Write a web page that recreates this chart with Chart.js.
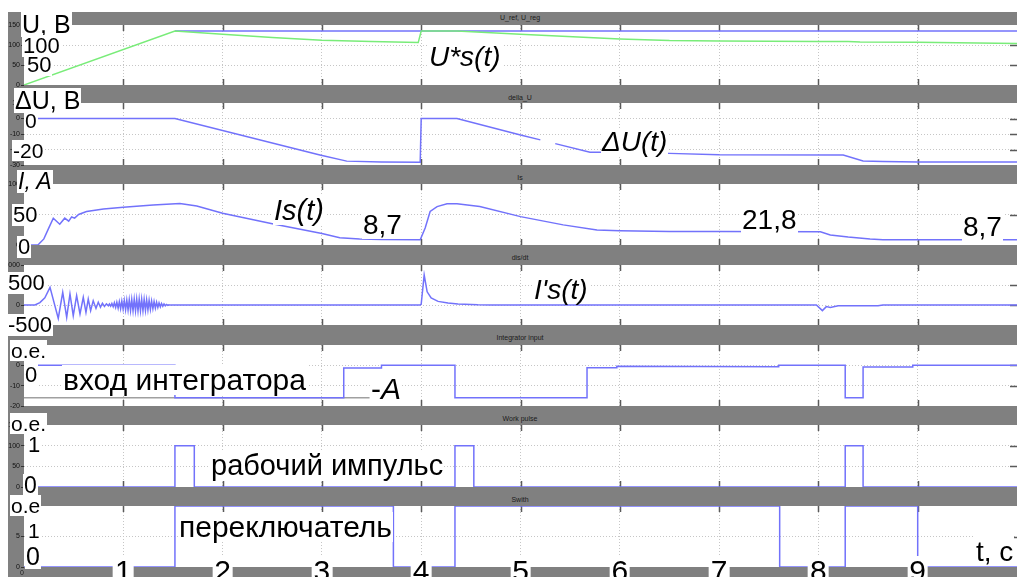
<!DOCTYPE html>
<html>
<head>
<meta charset="utf-8">
<script src="https://cdn.jsdelivr.net/npm/chart.js@4.4.1/dist/chart.umd.min.js"></script>
<style>
html, body { margin: 0; padding: 0; background: #fff; overflow: hidden; }
#scope { position: relative; width: 1017px; height: 577px; overflow: hidden; font-family: 'Liberation Sans', Arial, sans-serif; }
.bar { position: absolute; background: #808080; }
.cap { position: absolute; font-size: 7px; color: #1a1a1a; transform: translate(-50%, -50%); white-space: nowrap; }
canvas { position: absolute; left: 8px; }
.lbl { position: absolute; background: #fff; line-height: 1; white-space: nowrap; color: #000; padding: 0 1px; }
.it { font-style: italic; }
</style>
</head>
<body>
<div id="scope"></div>
<script>
// time axis (s)
const timeTicks = [1, 2, 3, 4, 5, 6, 7, 8, 9];

// U_ref / U_reg, V (U_ref is hidden under U_reg on the ramp)
const uRefT = [1.52, 10];
const uRefV = [135, 135];
const uRegT = [0, 1.52, 2.0, 2.5, 3.0, 3.5, 3.97, 4.0, 4.36, 5.0, 6.0, 6.5, 7.0, 8.0, 8.3, 8.42, 9.0, 10];
const uRegV = [0, 135, 127, 119, 112, 108.5, 106, 135, 135, 127, 115, 111, 110, 109, 108.5, 107.5, 107, 104];

// delta_U, V
const dUT = [0, 1.52, 2.98, 3.25, 3.6, 3.99, 4.0, 4.36, 5.0, 5.2, 5.27, 5.35, 5.7, 6.0, 6.5, 7.0, 8.25, 8.45, 8.65, 9.0, 10];
const dUV = [0, 0, -23.5, -27.5, -28, -28.3, 0, 0, -10.6, -13.8, null, -16.2, -21.8, -21.8, -22.5, -23.4, -23.5, -27.4, -27.7, -28, -28];

// Is, A
const isT = [0, .14, .2, .25, .295, .36, .41, .45, .48, .51, .55, .63, .8, 1.0, 1.3, 1.57, 1.74, 2.0, 2.5, 3.0, 3.18, 3.38, 3.6, 3.99,
             4.04, 4.09, 4.16, 4.26, 4.36, 4.59, 5.0, 5.43, 5.77, 6.0, 6.5, 7.0, 8.02, 8.12, 8.3, 8.52, 8.65, 10];
const isV = [0, 0, 10, 28, 44, 34, 44, 39, 46, 44, 50, 55, 59, 62, 65.5, 68, 64, 52, 35, 19, 12, 10, 9, 8.7,
             28, 55, 63, 67.5, 67.5, 63, 46.5, 33, 24.5, 23.5, 22, 22, 21.8, 16.5, 13, 10, 8.7, 8.7];

// dIs/dt
const didtT = [0, .11, .16, .21, .262, .345, .39, .43, .463, .496, .53, .564, .597, .624, .647, .671, .697, .725, .748, .77, .79, .81, .83, .85,
               .86, .873, .885, .898, .91, .923, .935, .948, .96, .973, .985, .998, 1.01, 1.023, 1.035, 1.048, 1.06, 1.073, 1.085, 1.098,
               1.11, 1.123, 1.135, 1.148, 1.16, 1.173, 1.185, 1.198, 1.21, 1.223, 1.235, 1.248, 1.26, 1.273, 1.285, 1.298, 1.31, 1.323,
               1.335, 1.348, 1.36, 1.373, 1.385, 1.398, 1.41, 1.423, 1.435, 1.448, 1.46, 1.473, 1.5,
               3.99, 4.0, 4.03, 4.06, 4.1, 4.17, 4.27, 4.37, 4.57, 4.7, 7.98, 8.04, 8.08, 8.12, 8.2, 8.6, 8.65, 10];
const didtV = [0, 0, 60, 180, 440, -335, 315, -310, 275, -268, 233, -225, 190, -185, 150, -143, 108, -85, 70, -55, 45, -35, 28, -20,
               25, -30, 38, -45, 55, -62, 70, -78, 85, -92, 100, -105, 112, -118, 124, -128, 133, -137, 140, -143,
               146, -148, 150, -150, 150, -148, 146, -143, 140, -135, 130, -124, 118, -110, 102, -94, 86, -78,
               70, -62, 54, -46, 38, -31, 25, -19, 14, -10, 6, -3, 0,
               0, 20, 750, 330, 175, 90, 50, 25, 5, 0, 0, -140, -40, -60, -20, -20, 0, 0];

// Integrator input
const intT = [0, 1.52, 1.52, 3.22, 3.22, 3.6, 3.6, 4.34, 4.34, 5.67, 5.67, 5.97, 5.97, 7.6, 7.6, 8.27, 8.27, 8.45, 8.45, 8.95, 8.95, 10];
const intV = [0, 0, -16, -16, -1.3, -1.3, 0, 0, -16, -16, -1.2, -1.2, -0.5, -0.7, 0, 0, -16, -16, -0.8, -0.8, 0, 0];
const levelAT = [0, 3.48];
const levelAV = [-16, -16];

// Work pulse
const wpT = [0, 1.52, 1.52, 1.715, 1.715, 4.34, 4.34, 4.53, 4.53, 8.27, 8.27, 8.45, 8.45, 10];
const wpV = [0, 0, 100, 100, 0, 0, 100, 100, 0, 0, 100, 100, 0, 0];

// Swith
const swT = [0, 1.52, 1.52, 3.72, 3.72, 4.34, 4.34, 7.61, 7.61, 8.27, 8.27, 9.0, 9.0, 10];
const swV = [0, 0, 10, 10, 0, 0, 10, 10, 0, 0, 10, 10, 0, 0];

const BLUE = '#7272fb';
const GREEN = '#79ec79';
const FONT = "'Liberation Sans', Arial, sans-serif";

const scope = document.getElementById('scope');

function pts(t, v) {
    return t.map((x, i) => ({ x: x, y: v[i] }));
}

function div(cls, css, html) {
    const d = document.createElement('div');
    d.className = cls;
    Object.assign(d.style, css);
    d.innerHTML = html || '';
    scope.appendChild(d);
    return d;
}

// series listed top-most first (Chart.js paints dataset 0 last)
const panels = [
    { top: 25, h: 60, min: 0, max: 150, ticks: [0, 50, 100, 150], grid: [50, 100], bar: [12, 25], title: 'U_ref, U_reg', titleY: 17,
      series: [[uRegT, uRegV, GREEN], [uRefT, uRefV, BLUE]] },
    { top: 103, h: 62, min: -30, max: 10, ticks: [-30, -20, -10, 0, 10], grid: [-20, -10, 0], bar: [85, 103], title: 'della_U', titleY: 97,
      series: [[dUT, dUV, BLUE]] },
    { top: 184, h: 61, min: 0, max: 100, ticks: [0, 50, 100], grid: [50], bar: [165, 184], title: 'Is', titleY: 177,
      series: [[isT, isV, BLUE]] },
    { top: 265, h: 60, min: -500, max: 1000, ticks: [-500, 0, 500, 1000], grid: [0, 500], bar: [245, 265], title: 'dis/dt', titleY: 257,
      series: [[didtT, didtV, BLUE]] },
    { top: 345, h: 61, min: -20, max: 10, ticks: [-20, -10, 0, 10], grid: [-10, 0], bar: [325, 345], title: 'Integrator input', titleY: 337,
      series: [[intT, intV, BLUE], [levelAT, levelAV, '#a0a0a0']] },
    { top: 425, h: 62, min: 0, max: 150, ticks: [0, 50, 100, 150], grid: [50, 100], bar: [406, 425], title: 'Work pulse', titleY: 418,
      series: [[wpT, wpV, BLUE]] },
    { top: 506, h: 61, min: 0, max: 10, ticks: [0, 5, 10], grid: [5], bar: [487, 506], title: 'Swith', titleY: 499,
      series: [[swT, swV, BLUE]] }
];

// scope frame: left strip, title bars, bottom bar
div('bar', { left: '8px', top: '12px', width: '16px', height: '565px' });
panels.forEach(p => {
    div('bar', { left: '8px', top: p.bar[0] + 'px', width: '1009px', height: (p.bar[1] - p.bar[0]) + 'px' });
    div('cap', { left: '520px', top: p.titleY + 'px' }, p.title);
});
div('bar', { left: '8px', top: '567px', width: '1009px', height: '10px' });

// solid tick marks at the panel edges
function scopeMarks(gridVals) {
    return {
        id: 'scopeMarks',
        beforeDatasetsDraw(chart) {
            const a = chart.chartArea, c = chart.ctx;
            c.save();
            c.strokeStyle = '#5a5a5a';
            c.lineWidth = 1.5;
            c.beginPath();
            timeTicks.forEach(t => {
                const x = Math.round(chart.scales.x.getPixelForValue(t)) + 0.5;
                c.moveTo(x, a.top); c.lineTo(x, a.top + 6);
                c.moveTo(x, a.bottom - 6); c.lineTo(x, a.bottom);
            });
            gridVals.forEach(v => {
                const y = Math.round(chart.scales.y.getPixelForValue(v)) + 0.5;
                c.moveTo(a.right - 7, y); c.lineTo(a.right, y);
            });
            c.stroke();
            c.restore();
        }
    };
}

const charts = panels.map(p => {
    const cv = document.createElement('canvas');
    cv.width = 1009;
    cv.height = p.h + 16;
    cv.style.top = (p.top - 8) + 'px';
    scope.appendChild(cv);
    return new Chart(cv, {
        type: 'line',
        data: {
            datasets: p.series.map(s => ({
                data: pts(s[0], s[1]),
                borderColor: s[2],
                borderWidth: 1.5,
                pointRadius: 0,
                tension: 0,
                spanGaps: false
            }))
        },
        options: {
            responsive: false,
            animation: false,
            events: [],
            layout: { padding: { top: 8, bottom: 8, left: 0, right: 0 } },
            plugins: { legend: { display: false }, tooltip: { enabled: false } },
            scales: {
                x: {
                    type: 'linear', min: 0, max: 10,
                    ticks: { display: false, stepSize: 1 },
                    grid: {
                        color: c => (c.tick && c.tick.value > 0 && c.tick.value < 10) ? '#c6c6c6' : 'rgba(0,0,0,0)',
                        drawTicks: false, lineWidth: 1
                    },
                    border: { display: false, dash: [1, 2] },
                    afterFit: s => { s.height = 0; s.paddingLeft = 0; s.paddingRight = 0; }
                },
                y: {
                    min: p.min, max: p.max,
                    afterBuildTicks: s => { s.ticks = p.ticks.map(v => ({ value: v })); },
                    ticks: { font: { size: 7, family: FONT }, color: '#111', padding: 1, autoSkip: false, callback: v => String(v) },
                    grid: {
                        color: c => (c.tick && p.grid.includes(c.tick.value)) ? '#c6c6c6' : 'rgba(0,0,0,0)',
                        tickColor: '#333', tickLength: 3, drawTicks: true, lineWidth: 1
                    },
                    border: { display: false, dash: [1, 2] },
                    afterFit: s => { s.width = 16; s.paddingTop = 0; s.paddingBottom = 0; }
                }
            }
        },
        plugins: [scopeMarks(p.grid)]
    });
});

// time labels on the bottom bar, placed from the last panel's x scale
const xs = charts[charts.length - 1].scales.x;
timeTicks.forEach(t => {
    const px = 8 + xs.getPixelForValue(t);
    div('lbl', { left: px + 'px', top: '556px', fontSize: '30px', transform: 'translateX(-50%)', padding: '0 2px' }, String(t));
});
div('cap', { left: '22px', top: '573px', transform: 'none', marginLeft: '-2px', marginTop: '-4px' }, '0');

// annotations: text, left, top, font size, italic
const notes = [
    ['U, B', 21, 12, 25, 0], ['100', 22, 35, 22, 0], ['50', 26, 54, 22, 0], ['U*s(t)', 428, 43, 28, 1],
    ['ΔU, B', 14, 88, 25, 0], ['0', 24, 110, 21, 0], ['-20', 12, 140, 21, 0], ['ΔU(t)', 601, 128, 28, 1],
    ['I, A', 17, 170, 23, 1], ['50', 12, 204, 22, 0], ['0', 17, 236, 22, 0], ['Is(t)', 273, 196, 29, 1],
    ['8,7', 362, 211, 28, 0], ['21,8', 741, 206, 28, 0], ['8,7', 962, 213, 28, 0],
    ['500', 7, 272, 22, 0], ['-500', 7, 314, 22, 0], ["I's(t)", 533, 276, 28, 1],
    ['о.е.', 10, 340, 21, 0], ['0', 24, 364, 22, 0], ['вход интегратора', 62, 365, 30, 0], ['-<i>A</i>', 370, 374, 30, 0],
    ['о.е.', 10, 413, 21, 0], ['1', 27, 434, 22, 0], ['0', 23, 474, 23, 0], ['рабочий импульс', 210, 451, 29, 0],
    ['о.е', 10, 495, 21, 0], ['1', 27, 520, 21, 0], ['0', 25, 544, 25, 0], ['переключатель', 178, 512, 30, 0]
];
notes.forEach(n => {
    div('lbl' + (n[4] ? ' it' : ''), { left: n[1] + 'px', top: n[2] + 'px', fontSize: n[3] + 'px' }, n[0]);
});
div('lbl', { left: '975px', top: '535px', fontSize: '28px', paddingTop: '3px' }, 't, c');
</script>
</body>
</html>
